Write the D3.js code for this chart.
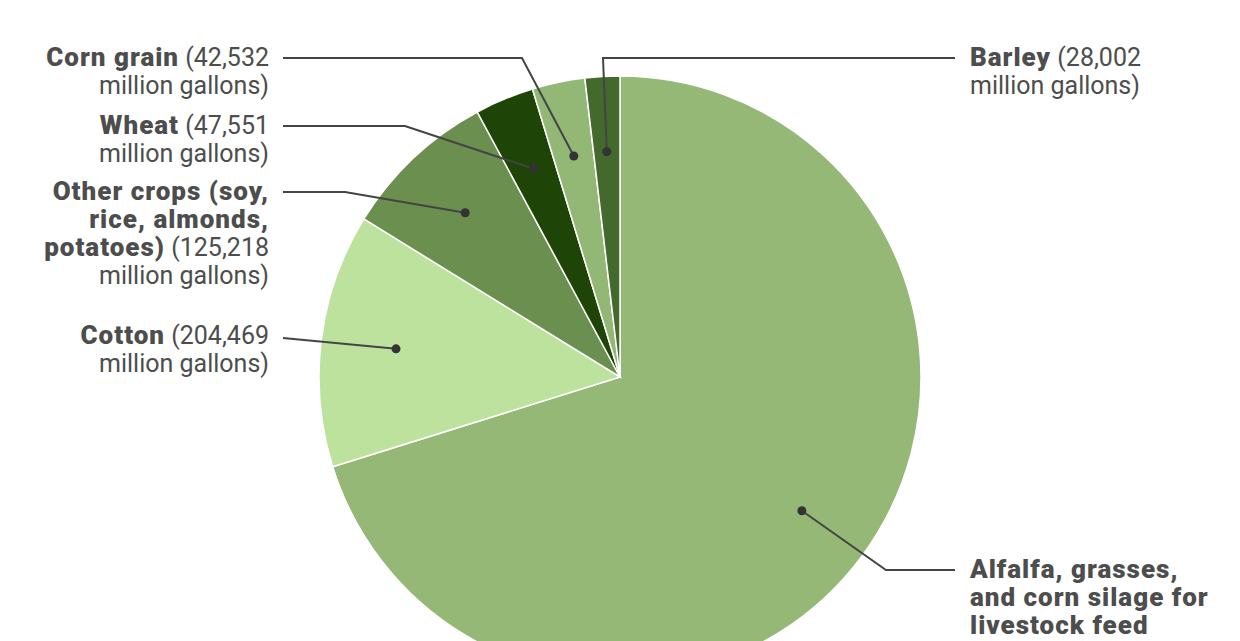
<!DOCTYPE html>
<html><head><meta charset="utf-8">
<script src="https://cdn.jsdelivr.net/npm/d3@7"></script>
<style>
html,body{margin:0;padding:0;background:#fff;overflow:hidden}
svg{display:block}
text{font-family:Roboto,"Noto Sans",sans-serif;fill:#4d4d4d;font-size:25px}
.b{font-weight:900;font-size:26px;letter-spacing:1px}
</style></head><body>
<svg id="c" width="1240" height="641"></svg>
<script>
// Data
const categories = ["Alfalfa, grasses, and corn silage for livestock feed", "Cotton", "Other crops (soy, rice, almonds, potatoes)", "Wheat", "Corn grain", "Barley"];
const values = [1054000, 204469, 125218, 47551, 42532, 28002]; // million gallons
const colors = ["#95b877", "#bde29d", "#6a8f4f", "#1f4407", "#93b876", "#44692d"];
// Label text lines: [bold part, regular part]
const labelLines = [
  [["Alfalfa, grasses,", ""], ["and corn silage for", ""], ["livestock feed", ""]],
  [["Cotton", " (" + d3.format(",")(204469)], ["", "million gallons)"]],
  [["Other crops (soy,", ""], ["rice, almonds,", ""], ["potatoes)", " (" + d3.format(",")(125218)], ["", "million gallons)"]],
  [["Wheat", " (" + d3.format(",")(47551)], ["", "million gallons)"]],
  [["Corn grain", " (" + d3.format(",")(42532)], ["", "million gallons)"]],
  [["Barley", " (" + d3.format(",")(28002)], ["", "million gallons)"]]
];

const svg = d3.select("#c");
const cx = 620, cy = 377, R = 301;
const g = svg.append("g").attr("transform", `translate(${cx},${cy})`);
const pie = d3.pie().sort(null).value(d => d)(values);
const arc = d3.arc().innerRadius(0).outerRadius(R);
const dotArc = d3.arc().innerRadius(R * 0.75).outerRadius(R * 0.75);

g.selectAll("path.s").data(pie).join("path")
  .attr("class", "s")
  .attr("d", arc)
  .attr("fill", (d, i) => colors[i])
  .attr("stroke", "#fff").attr("stroke-width", 1.5);

// Layout for labels (absolute page coords): elbow point, line end, text anchor
const layout = [
  {elbow: [886, 570], end: [955, 570], tx: 970, ty: 578, anchor: "start"},
  {elbow: null, end: [283, 338], tx: 269, ty: 344, anchor: "end"},
  {elbow: [345, 192], end: [283, 192], tx: 269, ty: 200, anchor: "end"},
  {elbow: [405, 126], end: [283, 126], tx: 269, ty: 134, anchor: "end"},
  {elbow: [522, 58], end: [283, 58], tx: 269, ty: 66, anchor: "end"},
  {elbow: [603, 58], end: [955, 58], tx: 970, ty: 66, anchor: "start"}
];
const lh = 28;

pie.forEach((p, i) => {
  const c = dotArc.centroid(p);
  const dot = [cx + c[0], cy + c[1]];
  const L = layout[i];
  const pts = [dot];
  if (L.elbow) pts.push(L.elbow);
  pts.push(L.end);
  svg.append("path")
    .attr("d", d3.line()(pts))
    .attr("fill", "none").attr("stroke", "#444").attr("stroke-width", 2);
  svg.append("circle").attr("cx", dot[0]).attr("cy", dot[1]).attr("r", 4.5).attr("fill", "#333");
  labelLines[i].forEach((ln, j) => {
    const t = svg.append("text").attr("x", L.tx).attr("y", L.ty + j * lh).attr("text-anchor", L.anchor);
    if (ln[0]) t.append("tspan").attr("class", "b").text(ln[0]);
    if (ln[1]) t.append("tspan").text(ln[1]);
  });
});
</script>
</body></html>
